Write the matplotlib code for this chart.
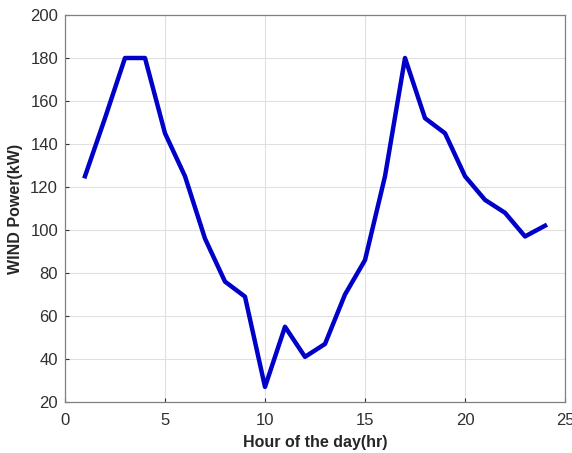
import matplotlib
matplotlib.use("Agg")
import matplotlib.pyplot as plt

# hourly wind power
hours = list(range(1, 25))
wind_kw = [125, 152, 180, 180, 145, 125, 96, 76, 69, 27, 55, 41,
           47, 70, 86, 125, 180, 152, 145, 125, 114, 108, 97, 102]

x_ticks = [0, 5, 10, 15, 20, 25]
y_ticks = [20, 40, 60, 80, 100, 120, 140, 160, 180, 200]

plt.rcParams['font.family'] = ['Liberation Sans', 'DejaVu Sans']

fig = plt.figure(figsize=(5.72, 4.53), dpi=100)
ax = fig.add_axes([0.1136, 0.1126, 0.8742, 0.8543])

ax.plot(hours, wind_kw, color='#0000c8', linewidth=3.2)

ax.set_xlim(0, 25)
ax.set_ylim(20, 200)
ax.set_xticks(x_ticks)
ax.set_yticks(y_ticks)
ax.grid(True, color='#e0e0e0', linewidth=0.8)
ax.set_axisbelow(True)
ax.tick_params(direction='in', length=3, colors='#303030', labelsize=12)
ax.tick_params(axis='x', pad=8)
ax.tick_params(axis='y', pad=5)
for s in ax.spines.values():
    s.set_color('#808080')
    s.set_linewidth(0.9)

ax.set_xlabel('Hour of the day(hr)', fontsize=11.5, fontweight='bold', color='#262626', labelpad=5)
ax.set_ylabel('WIND Power(kW)', fontsize=11.5, fontweight='bold', color='#262626', labelpad=5)

fig.savefig('out.png', dpi=100)
